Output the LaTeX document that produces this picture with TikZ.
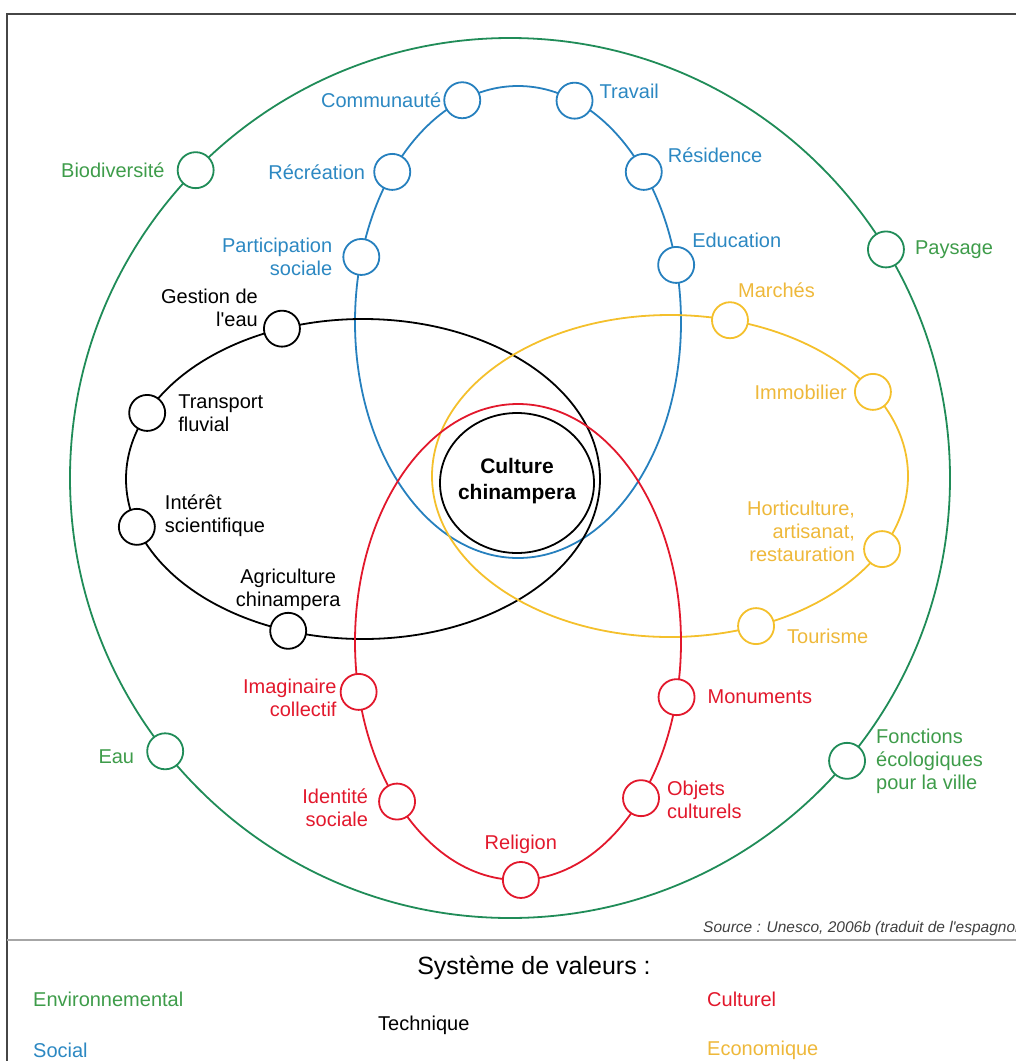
\documentclass[tikz,border=0pt]{standalone}
\usepackage{fontspec}
\setmainfont{Liberation Sans}
\usetikzlibrary{positioning}

\definecolor{envline}{RGB}{32,140,88}
\definecolor{envtext}{RGB}{62,156,74}
\definecolor{socline}{RGB}{38,128,190}
\definecolor{soctext}{RGB}{44,136,194}
\definecolor{ecoline}{RGB}{244,192,44}
\definecolor{ecotext}{RGB}{238,184,58}
\definecolor{culline}{RGB}{226,24,44}
\definecolor{cadregris}{RGB}{70,70,70}

\tikzset{
  anneau/.style={draw=#1,line width=1.8pt},
  valeur/.style={circle,draw=#1,fill=white,line width=1.8pt,minimum size=36pt,inner sep=0pt},
  etiq/.style={text=#1,font=\fontsize{20}{23}\selectfont,inner sep=1pt},
  legende/.style={text=#1,font=\fontsize{20}{23}\selectfont,anchor=west,inner sep=0pt},
}

\begin{document}
\begin{tikzpicture}[x=1pt,y=-1pt]
  \useasboundingbox (0,0) rectangle (1016,1061);
  \draw[line width=2pt,cadregris] (7,1061) -- (7,14) -- (1016,14);

  % les cinq systemes de valeurs
  \draw[anneau=envline] (510,478) circle (440);
  \draw[anneau=socline] (518,322) ellipse (163 and 236);
  \draw[anneau=black] (363,479) ellipse (237 and 160);
  \draw[anneau=ecoline] (670,476) ellipse (238 and 161);
  \draw[anneau=culline] (518,642) ellipse (163 and 238);
  \draw[line width=1.8pt] (517,483) ellipse (77 and 70);
  \node[font=\bfseries\fontsize{21}{26}\selectfont,align=center] (coeur) at (517,481) {Culture\\chinampera};

  % valeurs sur chaque anneau
  \foreach \t/\n in {224.4/bio,328.7/pay,141.6/eau,40/fon}
    \node[valeur=envline] (\n) at ({510+440*cos(\t)},{478+440*sin(\t)}) {};
  \foreach \t/\n in {250/com,290.3/trav,219.5/rec,320.5/res,196/par,346/edu}
    \node[valeur=socline] (\n) at ({518+163*cos(\t)},{322+236*sin(\t)}) {};
  \foreach \t/\n in {250/ges,204.4/tran,162.6/int,108.4/agr}
    \node[valeur=black] (\n) at ({363+237*cos(\t)},{479+160*sin(\t)}) {};
  \foreach \t/\n in {284.6/mar,328.5/imm,27/hor,68.8/tou}
    \node[valeur=ecoline] (\n) at ({670+238*cos(\t)},{476+161*sin(\t)}) {};
  \foreach \t/\n in {167.9/ima,13.4/mon,137.9/ide,41/obj,89/rel}
    \node[valeur=culline] (\n) at ({518+163*cos(\t)},{642+238*sin(\t)}) {};

  % environnemental
  \node[etiq=envtext,left=11pt of bio] (bio-l) {Biodiversité};
  \node[etiq=envtext,right=9pt of pay] (pay-l) {Paysage};
  \node[etiq=envtext,left=11pt of eau,yshift=-5pt] (eau-l) {Eau};
  \node[etiq=envtext,right=9pt of fon,align=left] (fon-l) {Fonctions\\écologiques\\pour la ville};

  % social
  \node[etiq=soctext,left=1pt of com] (com-l) {Communauté};
  \node[etiq=soctext,right=5pt of trav,yshift=9pt] (trav-l) {Travail};
  \node[etiq=soctext,left=7pt of rec] (rec-l) {Récréation};
  \node[etiq=soctext,right=4pt of res,yshift=17pt] (res-l) {Résidence};
  \node[etiq=soctext,left=9pt of par,align=right] (par-l) {Participation\\sociale};
  \node[etiq=soctext,right=-4pt of edu,yshift=25pt] (edu-l) {Education};

  % technique
  \node[etiq=black,left=4pt of ges,yshift=21pt,align=right] (ges-l) {Gestion de\\l\textquotesingle eau};
  \node[etiq=black,right=11pt of tran,align=left] (tran-l) {Transport\\fluvial};
  \node[etiq=black,right=8pt of int,yshift=11pt,align=left] (int-l) {Intérêt\\scientifique};
  \node[etiq=black,above=0pt of agr,align=center] (agr-l) {Agriculture\\chinampera};

  % economique
  \node[etiq=ecotext,right=-12pt of mar,yshift=30pt] (mar-l) {Marchés};
  \node[etiq=ecotext,left=6pt of imm] (imm-l) {Immobilier};
  \node[etiq=ecotext,left=7pt of hor,yshift=18pt,align=right] (hor-l) {Horticulture,\\artisanat,\\restauration};
  \node[etiq=ecotext,right=11pt of tou,yshift=-10pt] (tou-l) {Tourisme};

  % culturel
  \node[etiq=culline,left=2pt of ima,yshift=-6pt,align=right] (ima-l) {Imaginaire\\collectif};
  \node[etiq=culline,right=11pt of mon] (mon-l) {Monuments};
  \node[etiq=culline,left=9pt of ide,yshift=-6pt,align=right] (ide-l) {Identité\\sociale};
  \node[etiq=culline,right=6pt of obj,yshift=-2pt,align=left] (obj-l) {Objets\\culturels};
  \node[etiq=culline,above=6pt of rel] (rel-l) {Religion};

  % legende
  \draw[line width=1.5pt,gray!70] (7,940) -- (1016,940);
  \node[font=\itshape\fontsize{15.5}{18}\selectfont,anchor=west,text=darkgray,inner sep=0pt] (src) at (703,928) {Source : Unesco, 2006b (traduit de l\textquotesingle espagnol)};
  \node[font=\fontsize{25}{29}\selectfont,inner sep=0pt] (sys) at (534,968) {Système de valeurs :};
  \node[legende=envtext] (env) at (33,999) {Environnemental};
  \node[legende=culline] (cul) at (707,999) {Culturel};
  \node[legende=black] (tec) at (378,1025) {Technique};
  \node[legende=soctext] (soc) at (33,1050) {Social};
  \node[legende=ecotext] (eco) at (707,1050) {Economique};
\end{tikzpicture}
\end{document}
